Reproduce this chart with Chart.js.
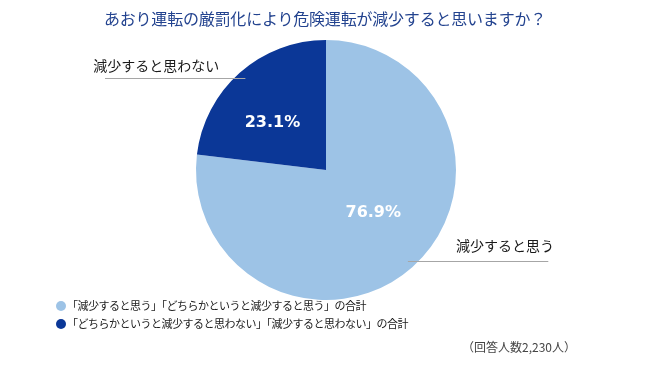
<!DOCTYPE html>
<html>
<head>
<meta charset="utf-8">
<script src="https://cdn.jsdelivr.net/npm/chart.js@4"></script>
<style>
  html, body { margin: 0; padding: 0; background: #fff; }
  #wrap { position: relative; width: 650px; height: 365px; font-family: "Noto Sans CJK JP", sans-serif; }
  #chart { position: absolute; left: 0; top: 0; }
  #title { position: absolute; left: 0; width: 650px; top: 6px; text-align: center; font-size: 16px; color: #23438f; letter-spacing: -0.2px; }
  .leg { position: absolute; left: 56px; font-size: 11px; color: #1a1a1a; letter-spacing: -0.5px; white-space: nowrap; }
  .leg span { display: inline-block; width: 10px; height: 10px; border-radius: 50%; vertical-align: -1px; margin-right: 1px; }
  #note { position: absolute; left: 462px; top: 338px; font-size: 12px; color: #444; white-space: nowrap; }
</style>
</head>
<body>
<div id="wrap">
  <canvas id="chart" width="650" height="365"></canvas>
  <div id="title">あおり運転の厳罰化により危険運転が減少すると思いますか？</div>
  <div class="leg" id="leg0" style="top:297px"></div>
  <div class="leg" id="leg1" style="top:315px"></div>
  <div id="note">（回答人数2,230人）</div>
</div>
<script>
// data
var categories = ['減少すると思う', '減少すると思わない'];
var values = [76.9, 23.1];
var legendLabels = [
    '「減少すると思う」「どちらかというと減少すると思う」の合計',
    '「どちらかというと減少すると思わない」「減少すると思わない」の合計'
];
var colors = ['#9dc3e6', '#0b3797'];

// legend rows
for (var i = 0; i < legendLabels.length; i++) {
    var el = document.getElementById('leg' + i);
    var dot = document.createElement('span');
    dot.style.background = colors[i];
    el.appendChild(dot);
    el.appendChild(document.createTextNode(legendLabels[i]));
}

// percent labels inside slices + outside category labels with underline
var sliceLabels = {
    id: 'sliceLabels',
    afterDatasetsDraw: function (chart) {
        var ctx = chart.ctx;
        var meta = chart.getDatasetMeta(0);
        var radFrac = [0.49, 0.55];
        var angShift = [-0.11, -0.12];
        meta.data.forEach(function (arc, i) {
            var p = arc.getProps(['x', 'y', 'startAngle', 'endAngle', 'outerRadius'], true);
            var mid = (p.startAngle + p.endAngle) / 2 + angShift[i];
            var r = p.outerRadius * radFrac[i];
            ctx.save();
            ctx.fillStyle = '#ffffff';
            ctx.font = 'bold 16px "DejaVu Sans", sans-serif';
            ctx.textAlign = 'center';
            ctx.textBaseline = 'middle';
            ctx.fillText(values[i].toFixed(1) + '%', p.x + Math.cos(mid) * r, p.y + Math.sin(mid) * r);
            ctx.restore();
        });

        // outside labels
        var c = meta.data[0];
        var cx = c.x, cy = c.y, R = c.outerRadius;
        var outside = [
            { text: categories[0], tx: cx + R * 1.0, ty: cy + R * 0.58, lx0: cx + R * 0.63, lx1: cx + R * 1.71, ly: cy + R * 0.70 },
            { text: categories[1], tx: cx - R * 1.79, ty: cy - R * 0.80, lx0: cx - R * 1.70, lx1: cx - R * 0.62, ly: cy - R * 0.71 }
        ];
        ctx.save();
        outside.forEach(function (o) {
            ctx.strokeStyle = '#a6a6a6';
            ctx.lineWidth = 1;
            ctx.beginPath();
            ctx.moveTo(o.lx0, Math.round(o.ly) + 0.5);
            ctx.lineTo(o.lx1, Math.round(o.ly) + 0.5);
            ctx.stroke();
            ctx.fillStyle = '#1a1a1a';
            ctx.font = '14px "Noto Sans CJK JP", sans-serif';
            ctx.textAlign = 'left';
            ctx.textBaseline = 'middle';
            ctx.fillText(o.text, o.tx, o.ty);
        });
        ctx.restore();
    }
};

var ctx = document.getElementById('chart').getContext('2d');
new Chart(ctx, {
    type: 'pie',
    data: {
        labels: categories,
        datasets: [{
            data: values,
            backgroundColor: colors,
            borderWidth: 0
        }]
    },
    options: {
        responsive: false,
        animation: false,
        layout: { padding: { top: 40, bottom: 65, left: 66, right: 64 } },
        plugins: {
            legend: { display: false },
            tooltip: { enabled: false }
        }
    },
    plugins: [sliceLabels]
});
</script>
</body>
</html>
